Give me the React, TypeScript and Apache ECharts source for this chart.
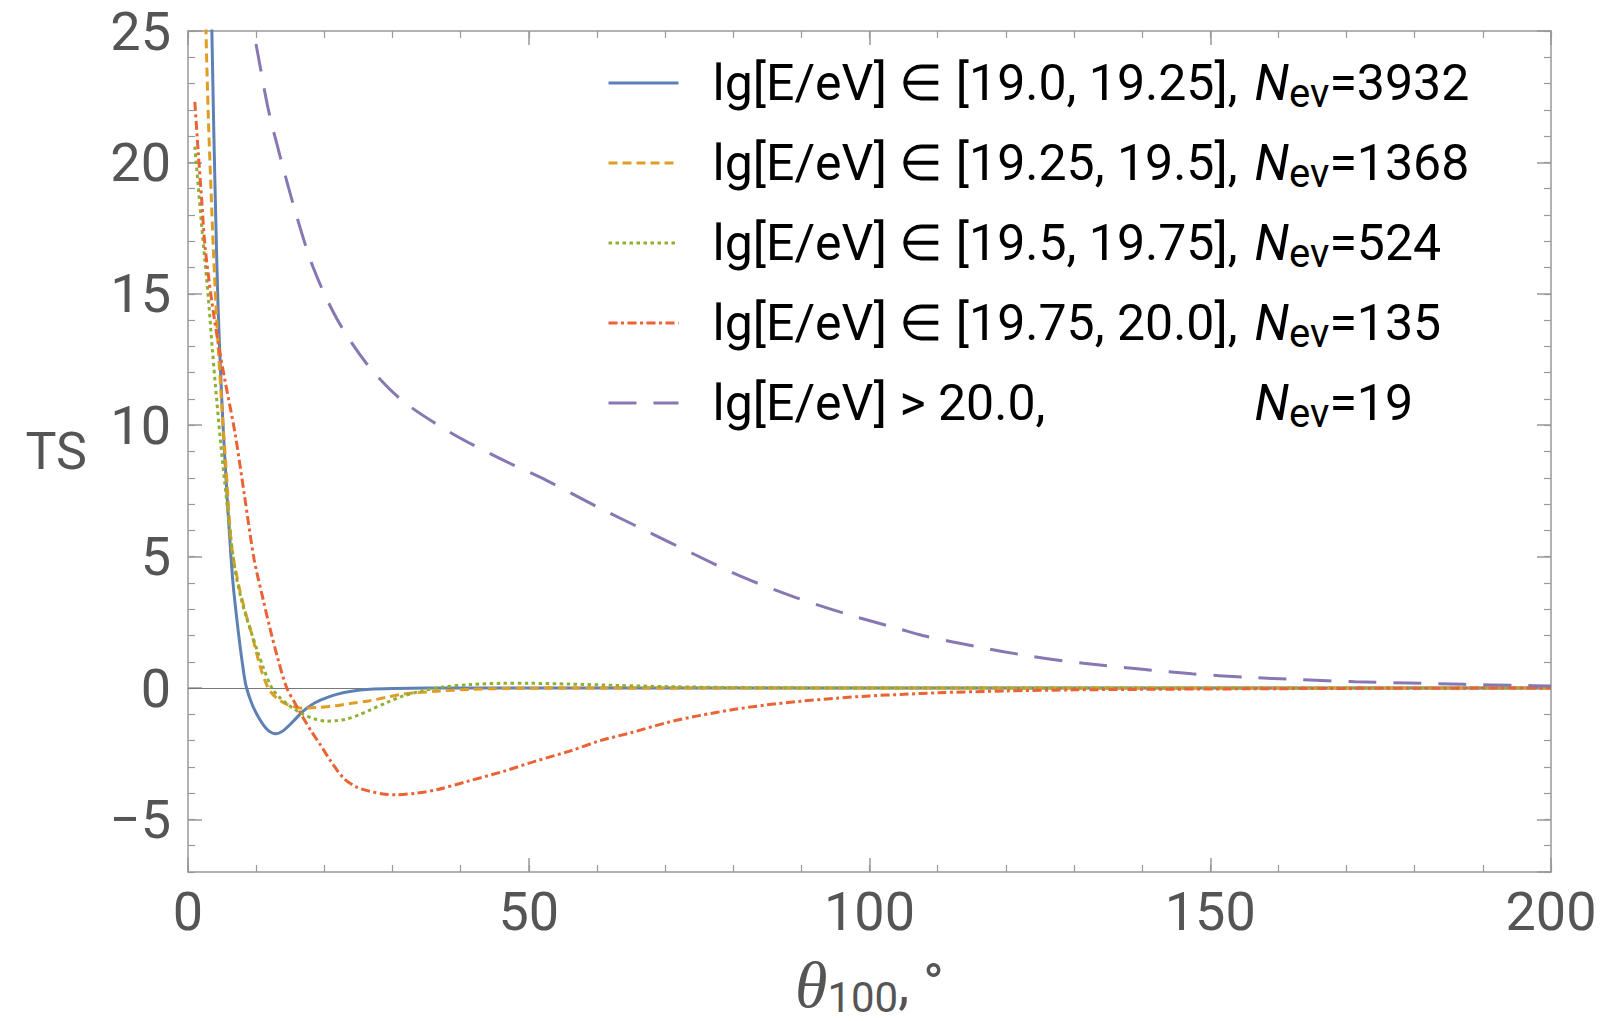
import React, { useEffect, useRef } from "react";
import * as echarts from "echarts";

// ---- data ----
const blueTheta = [3.0, 3.5, 3.8, 4.1, 4.4, 4.8, 5.2, 5.6, 6.0, 6.6, 7.4, 8.0, 8.5, 9.3, 10.1, 11.0, 11.8, 12.8, 14.0, 15.5, 16.9, 18.5, 20.0, 21.8, 24.0, 26.7, 30.0, 35.0, 50, 100, 150, 200];
const blueTS = [31, 25, 21, 17.6, 14.6, 11.9, 9.7, 7.9, 6.2, 4.0, 2.1, 0.9, 0.1, -0.55, -1.0, -1.38, -1.62, -1.74, -1.62, -1.25, -0.88, -0.58, -0.4, -0.24, -0.12, -0.05, -0.02, 0, 0, 0, 0, 0];

const orangeTheta = [2.3, 2.64, 3.0, 3.4, 3.72, 4.1, 4.45, 5.0, 5.6, 6.4, 7.4, 8.4, 9.35, 10.5, 11.5, 12.3, 13.2, 14.5, 16.9, 19.0, 21.8, 24.0, 26.7, 29.0, 31.1, 33.5, 36.5, 41.4, 46, 55, 100, 150, 200];
const orangeTS = [30, 25, 21.6, 18.8, 16.7, 14.6, 12.9, 10.6, 8.3, 5.4, 3.96, 2.9, 2.06, 0.9, 0.15, -0.2, -0.42, -0.62, -0.77, -0.74, -0.67, -0.58, -0.48, -0.36, -0.25, -0.18, -0.12, -0.05, -0.02, 0, 0, 0, 0];

const greenTheta = [1.0, 1.5, 2.0, 2.5, 3.0, 3.6, 4.2, 4.8, 5.4, 6.1, 6.9, 7.8, 8.5, 9.35, 10.2, 11.05, 12.3, 13.3, 14.5, 15.7, 16.9, 18.5, 20.3, 21.8, 23.3, 25.0, 26.7, 29.2, 31.6, 34.5, 37.5, 41.4, 46.2, 50, 56, 63, 70.7, 80, 90, 100, 150, 200];
const greenTS = [20.6, 19.1, 17.6, 16.2, 14.8, 12.8, 11.0, 9.3, 7.8, 6.1, 4.5, 3.4, 2.75, 2.06, 1.4, 0.78, 0.0, -0.32, -0.6, -0.82, -1.0, -1.17, -1.26, -1.24, -1.18, -1.03, -0.84, -0.55, -0.3, -0.1, 0.04, 0.13, 0.18, 0.18, 0.15, 0.1, 0.05, 0.02, 0.005, 0, 0, 0];

const redTheta = [1.0, 1.5, 2.0, 2.5, 3.5, 4.45, 5.5, 6.9, 8.3, 9.7, 11.0, 12.0, 13.2, 14.5, 15.7, 16.9, 18.1, 19.4, 21.0, 22.8, 24.6, 26.7, 28.6, 30.6, 33.5, 36.5, 41, 46.3, 51, 56, 60.5, 65, 70.5, 75, 80, 85, 90, 95, 100, 105, 110, 120, 130, 140, 155, 175, 200];
const redTS = [22.3, 20.4, 18.6, 16.8, 14.7, 13.1, 11.6, 9.7, 7.3, 4.9, 3.4, 2.3, 1.1, 0.0, -0.58, -1.13, -1.65, -2.15, -2.8, -3.42, -3.75, -3.93, -4.03, -4.06, -4.0, -3.87, -3.55, -3.17, -2.78, -2.4, -2.0, -1.7, -1.3, -1.05, -0.82, -0.64, -0.5, -0.39, -0.3, -0.24, -0.18, -0.11, -0.07, -0.05, -0.03, -0.01, 0];

const purpleTheta = [9.0, 9.58, 10.3, 11.8, 13.75, 15.95, 18.4, 21.8, 26.2, 31.4, 38.4, 45.8, 52.6, 60, 67.3, 74.2, 81.5, 89.1, 96.7, 104.5, 107.8, 115.6, 123.4, 131.4, 139.3, 147.3, 155.3, 163.1, 171.3, 179.2, 187.3, 195.5, 200];
const purpleTS = [26.2, 25.08, 24.06, 22.0, 20.0, 17.95, 15.98, 14.07, 12.35, 10.95, 9.74, 8.73, 7.9, 6.9, 5.97, 5.1, 4.21, 3.45, 2.81, 2.24, 2.0, 1.58, 1.22, 0.94, 0.73, 0.54, 0.41, 0.32, 0.24, 0.19, 0.14, 0.1, 0.08];

const seriesNames = ["e1", "e2", "e3", "e4", "e5"];
const legendRanges = [
  "lg[E/eV] \u2208 [19.0, 19.25],",
  "lg[E/eV] \u2208 [19.25, 19.5],",
  "lg[E/eV] \u2208 [19.5, 19.75],",
  "lg[E/eV] \u2208 [19.75, 20.0],",
  "lg[E/eV] > 20.0,",
];
const legendCounts = ["3932", "1368", "524", "135", "19"];

const xMin = 0, xMax = 200, xMajor = 50, xMinor = 10;
const yMin = -7, yMax = 25, yMinor = 1;

const colors = ["#5E81B5", "#E19C24", "#8FB032", "#EB6235", "#8778B3"];
const dashes: any[] = ["solid", [9, 5], [3.5, 3.5], [9, 3.5, 3, 3.5], [28, 17]];

const zip = (a: number[], b: number[]) => a.map((v, i) => [v, b[i]]);

const FRAME = "#999999";
const LABEL = "#555555";
const FONT = "Roboto";

export default function App() {
  const ref = useRef<HTMLDivElement>(null);
  useEffect(() => {
    document.body.style.margin = "0";
    const chart = echarts.init(ref.current!, null, { renderer: "svg" });
    const datasets = [
      zip(blueTheta, blueTS),
      zip(orangeTheta, orangeTS),
      zip(greenTheta, greenTS),
      zip(redTheta, redTS),
      zip(purpleTheta, purpleTS),
    ];

    const frameLine = { show: true, onZero: false, lineStyle: { color: FRAME, width: 1.5 } };
    const majorTick = { show: true, inside: true, length: 14, lineStyle: { color: FRAME, width: 1.5 } };
    const minorTickAx = { show: true, inside: true, length: 7, lineStyle: { color: FRAME, width: 1.2 } };
    const noLabel = { show: false };
    const tickLabel = { fontSize: 54, fontFamily: FONT, color: LABEL };

    const option: any = {
      animation: false,
      backgroundColor: "#ffffff",
      grid: { left: 188, right: 54, top: 31, bottom: 149, containLabel: false, outerBoundsMode: "none" },
      xAxis: [
        {
          type: "value", position: "bottom", min: xMin, max: xMax, interval: xMajor,
          axisLine: frameLine, axisTick: majorTick, splitLine: { show: false },
          axisLabel: { ...tickLabel, margin: 12 },
          name: "{t|\u03b8}{s|100}{c|, \u00b0}",
          nameLocation: "middle", nameGap: 78,
          nameTextStyle: {
            color: LABEL,
            rich: {
              t: { fontSize: 66, fontStyle: "italic", fontFamily: "Liberation Serif", color: LABEL, lineHeight: 68 },
              s: { fontSize: 42, fontFamily: FONT, color: LABEL, lineHeight: 68, verticalAlign: "bottom" },
              c: { fontSize: 56, fontFamily: FONT, color: LABEL, lineHeight: 68 },
            },
          },
        },
        {
          type: "value", position: "top", min: xMin, max: xMax, interval: xMajor,
          axisLine: frameLine, axisTick: majorTick, splitLine: { show: false }, axisLabel: noLabel,
        },
        {
          type: "value", position: "bottom", min: xMin, max: xMax, interval: xMinor,
          axisLine: { show: false, onZero: false }, axisTick: minorTickAx, splitLine: { show: false }, axisLabel: noLabel,
        },
        {
          type: "value", position: "top", min: xMin, max: xMax, interval: xMinor,
          axisLine: { show: false, onZero: false }, axisTick: minorTickAx, splitLine: { show: false }, axisLabel: noLabel,
        },
      ],
      yAxis: [
        {
          type: "value", position: "left", min: yMin, max: yMax, splitNumber: 5,
          axisLine: frameLine, axisTick: majorTick, splitLine: { show: false },
          axisLabel: {
            ...tickLabel, margin: 17, showMinLabel: false,
            formatter: (v: number) => (v % 5 !== 0 ? "" : v < 0 ? "\u2212" + Math.abs(v) : String(v)),
          },
          name: "TS", nameLocation: "middle", nameRotate: 0, nameGap: 101,
          nameTextStyle: { fontSize: 52, fontFamily: FONT, color: LABEL },
        },
        {
          type: "value", position: "right", min: yMin, max: yMax, splitNumber: 5,
          axisLine: frameLine, axisTick: majorTick, splitLine: { show: false }, axisLabel: noLabel,
        },
        {
          type: "value", position: "left", min: yMin, max: yMax, interval: yMinor,
          axisLine: { show: false, onZero: false }, axisTick: minorTickAx, splitLine: { show: false }, axisLabel: noLabel,
        },
        {
          type: "value", position: "right", min: yMin, max: yMax, interval: yMinor,
          axisLine: { show: false, onZero: false }, axisTick: minorTickAx, splitLine: { show: false }, axisLabel: noLabel,
        },
      ],
      legend: {
        orient: "vertical",
        left: 602,
        top: 53,
        itemWidth: 70,
        itemHeight: 20,
        itemGap: 25,
        selectedMode: false,
        data: seriesNames,
        itemStyle: { opacity: 0 },
        lineStyle: { width: 3 },
        formatter: (name: string) => {
          const i = seriesNames.indexOf(name);
          return `{sp| }{a|${legendRanges[i]}}{n|N}{s|ev}{v|=${legendCounts[i]}}`;
        },
        textStyle: {
          rich: {
            sp: { width: 29, fontSize: 50, lineHeight: 50 },
            a: { width: 542, fontSize: 50, fontFamily: FONT, color: "#000", lineHeight: 50 },
            n: { fontSize: 50, fontFamily: FONT, fontStyle: "italic", color: "#000", lineHeight: 50 },
            s: { fontSize: 40, fontFamily: FONT, color: "#000", lineHeight: 60, verticalAlign: "bottom" },
            v: { fontSize: 50, fontFamily: FONT, color: "#000", lineHeight: 50 },
          },
        },
      },
      series: seriesNames.map((name, i) => ({
        name,
        type: "line",
        xAxisIndex: 0,
        yAxisIndex: 0,
        data: datasets[i],
        symbol: "none",
        showSymbol: false,
        smooth: 0.3,
        clip: true,
        z: 2 + i,
        lineStyle: { color: colors[i], width: 3, type: dashes[i], cap: "butt" },
        itemStyle: { color: colors[i] },
        markLine: i === 0 ? {
          silent: true, symbol: "none", label: { show: false },
          lineStyle: { color: "#777777", width: 1.2, type: "solid" },
          data: [{ yAxis: 0 }],
          z: 1,
        } : undefined,
      })),
    };
    chart.setOption(option);
    return () => chart.dispose();
  }, []);
  return (
    <div
      ref={ref}
      style={{ position: "absolute", left: 0, top: 0, width: 1605, height: 1021, overflow: "hidden" }}
    />
  );
}
